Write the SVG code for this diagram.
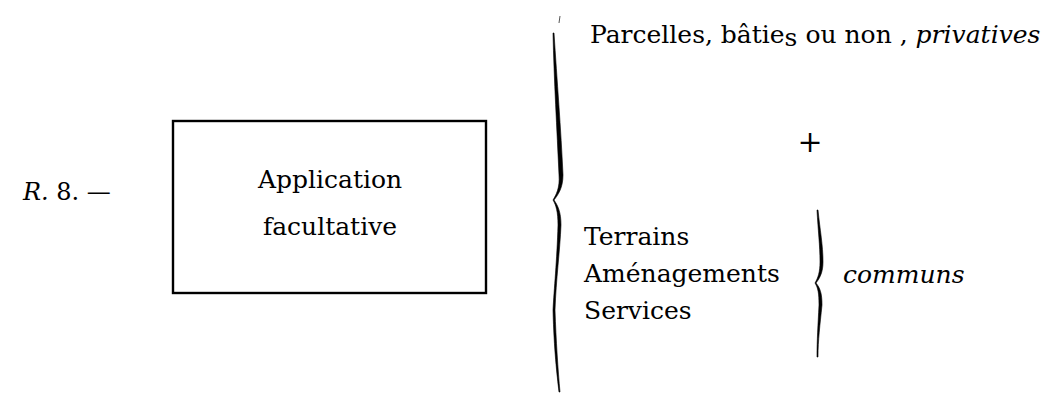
<svg xmlns="http://www.w3.org/2000/svg" width="1056" height="393" viewBox="0 0 1056 393">
<style>
  .t { font-family: "DejaVu Serif", "Liberation Serif", serif; font-size: 25px; fill: #000; }
  .i { font-style: italic; }
  .box { fill: none; stroke: #000; stroke-width: 2.4; }
  .brace { fill: #000; stroke: #000; stroke-width: 0.6; }
</style>
<rect width="1056" height="393" fill="#fff"/>
<g id="label-r8">
  <text class="t" x="23" y="200" style="font-size:24px"><tspan class="i">R.</tspan> 8. —</text>
</g>
<g id="node-application">
  <rect class="box" x="173" y="121" width="313" height="172"/>
  <text class="t" x="330" y="188" text-anchor="middle">Application</text>
  <text class="t" x="330" y="235" text-anchor="middle">facultative</text>
</g>
<g id="connectors">
  <line x1="560" y1="16" x2="559" y2="23" stroke="#555" stroke-width="1"/>
  <path class="brace" d="M553,33 C554,80 557,130 559,175 C560,188 556,195 553,200 C556,205 558,212 558,225 C557,260 554,290 553,310 C554,350 557,375 559,392 L560,392 C558,370 556,340 555,310 C556,280 560,250 561,225 C561,212 558,206 554,200 C558,195 563,188 563,175 C561,130 557,80 554,33 Z"/>
  <path class="brace" d="M817,210 C818,230 820,245 820,262 C820,272 818,278 815,283 C818,288 819,293 819,305 C818,325 817,340 817,357 L818,357 C818,340 820,325 822,305 C822,293 820,288 816,283 C820,278 823,272 823,262 C823,245 820,230 818,210 Z"/>
</g>
<g id="node-parcelles">
  <text class="t" x="590" y="43">Parcelles, bâtie<tspan dy="3">s</tspan><tspan dy="-3"> ou non</tspan> , <tspan class="i">privatives</tspan></text>
</g>
<g id="node-plus">
  <text class="t" x="810" y="152" text-anchor="middle" style="font-size:30px">+</text>
</g>
<g id="node-communs-list">
  <text class="t" x="584" y="245">Terrains</text>
  <text class="t" x="584" y="282">Aménagements</text>
  <text class="t" x="584" y="319">Services</text>
</g>
<g id="node-communs">
  <text class="t i" x="843" y="283">communs</text>
</g>
</svg>
